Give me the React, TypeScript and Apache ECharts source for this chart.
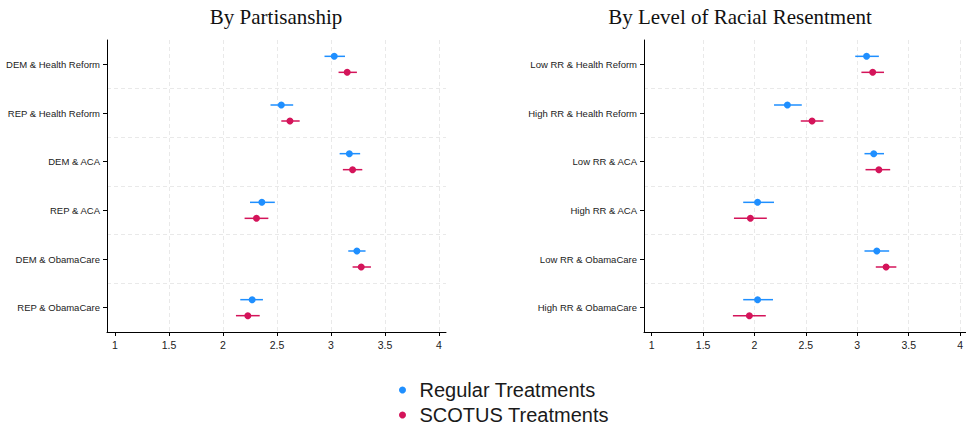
import React, { useEffect, useRef } from "react";
import * as echarts from "echarts";

const leftCats = ["DEM & Health Reform", "REP & Health Reform", "DEM & ACA", "REP & ACA", "DEM & ObamaCare", "REP & ObamaCare"];
const leftRegular = [3.03, 2.54, 3.17, 2.36, 3.24, 2.27];
const leftRegularLow = [2.94, 2.44, 3.08, 2.25, 3.16, 2.16];
const leftRegularHigh = [3.13, 2.65, 3.27, 2.48, 3.32, 2.37];
const leftScotus = [3.15, 2.62, 3.2, 2.31, 3.28, 2.23];
const leftScotusLow = [3.07, 2.54, 3.11, 2.2, 3.2, 2.12];
const leftScotusHigh = [3.24, 2.71, 3.29, 2.42, 3.37, 2.34];

const rightCats = ["Low RR & Health Reform", "High RR & Health Reform", "Low RR & ACA", "High RR & ACA", "Low RR & ObamaCare", "High RR & ObamaCare"];
const rightRegular = [3.09, 2.32, 3.16, 2.03, 3.19, 2.03];
const rightRegularLow = [2.98, 2.19, 3.07, 1.89, 3.07, 1.89];
const rightRegularHigh = [3.21, 2.46, 3.26, 2.19, 3.31, 2.18];
const rightScotus = [3.15, 2.56, 3.21, 1.96, 3.28, 1.95];
const rightScotusLow = [3.04, 2.45, 3.08, 1.8, 3.18, 1.79];
const rightScotusHigh = [3.26, 2.67, 3.32, 2.12, 3.38, 2.11];

const xTicks = [1, 1.5, 2, 2.5, 3, 3.5, 4];
const titles = ["By Partisanship", "By Level of Racial Resentment"];
const seriesNames = ["Regular Treatments", "SCOTUS Treatments"];

const BLUE = "#1f8fff";
const RED = "#d4145a";
const GRID = "#e9e9e9";
const OFFSET = 8;

export default function App() {
  const ref = useRef<HTMLDivElement>(null);
  useEffect(() => {
    if (!ref.current) return;
    const chart = echarts.init(ref.current, null, { renderer: "svg" });

    const makeX = (gridIndex: number, min: number, max: number) => ({
      type: "value",
      gridIndex,
      min,
      max,
      axisLine: { show: true, onZero: false, lineStyle: { color: "#000", width: 1 } },
      axisTick: { show: true, length: 4, customValues: xTicks, lineStyle: { color: "#000" } },
      axisLabel: { customValues: xTicks, fontSize: 10.5, color: "#222", margin: 7, fontFamily: "Liberation Sans, Arial, sans-serif" },
      splitLine: {
        show: true,
        lineStyle: { color: ["rgba(0,0,0,0)", GRID, GRID, GRID, GRID, GRID, GRID], type: [4, 3], width: 1 },
      },
    });
    const makeY = (gridIndex: number, cats: string[]) => ({
      type: "category",
      gridIndex,
      data: cats,
      inverse: true,
      boundaryGap: true,
      axisLine: { show: true, lineStyle: { color: "#000", width: 1 } },
      axisTick: { show: true, alignWithLabel: true, length: 4, lineStyle: { color: "#000" } },
      axisLabel: { fontSize: 9.5, color: "#222", margin: 7, fontFamily: "Liberation Sans, Arial, sans-serif" },
      splitLine: {
        show: true,
        lineStyle: { color: ["rgba(0,0,0,0)", GRID, GRID, GRID, GRID, GRID, "rgba(0,0,0,0)"], type: [4, 3], width: 1 },
      },
    });

    const errSeries = (name: string, idx: number, lows: number[], highs: number[], color: string, off: number) => ({
      type: "custom",
      name,
      xAxisIndex: idx,
      yAxisIndex: idx,
      silent: true,
      z: 2,
      data: lows.map((l, i) => [l, highs[i], i]),
      renderItem: (params: any, api: any) => {
        const p1 = api.coord([api.value(0), api.value(2)]);
        const p2 = api.coord([api.value(1), api.value(2)]);
        return {
          type: "line",
          shape: { x1: p1[0], y1: p1[1] + off, x2: p2[0], y2: p2[1] + off },
          style: { stroke: color, lineWidth: 1.5 },
        };
      },
    });
    const ptSeries = (name: string, idx: number, vals: number[], color: string, off: number) => ({
      type: "scatter",
      name,
      xAxisIndex: idx,
      yAxisIndex: idx,
      z: 3,
      symbol: "circle",
      symbolSize: 7,
      symbolOffset: [0, off],
      itemStyle: { color, opacity: 1 },
      data: vals.map((v, i) => [v, i]),
    });

    const legendItem = (name: string, top: number) => ({
      orient: "vertical",
      left: 394,
      top,
      itemWidth: 24,
      itemHeight: 7,
      icon: "circle",
      data: [name],
      textStyle: { fontSize: 20, color: "#1a1a1a", fontFamily: "Liberation Sans, Arial, sans-serif" },
    });

    chart.setOption({
      animation: false,
      backgroundColor: "#fff",
      grid: [
        { left: 107, top: 40, width: 339, height: 292 },
        { left: 644, top: 40, right: 0, height: 292 },
      ],
      xAxis: [makeX(0, 0.926, 4.065), makeX(1, 0.925, 4.054)],
      yAxis: [makeY(0, leftCats), makeY(1, rightCats)],
      legend: [legendItem(seriesNames[0], 375), legendItem(seriesNames[1], 400)],
      graphic: [
        { type: "text", x: 276, y: 16.5, style: { text: titles[0], font: "21px 'Liberation Serif', 'Times New Roman', serif", fill: "#111", textAlign: "center", verticalAlign: "middle" } },
        { type: "text", x: 740, y: 16.5, style: { text: titles[1], font: "21px 'Liberation Serif', 'Times New Roman', serif", fill: "#111", textAlign: "center", verticalAlign: "middle" } },
      ],
      series: [
        errSeries("Regular CI L", 0, leftRegularLow, leftRegularHigh, BLUE, -OFFSET),
        errSeries("SCOTUS CI L", 0, leftScotusLow, leftScotusHigh, RED, OFFSET),
        errSeries("Regular CI R", 1, rightRegularLow, rightRegularHigh, BLUE, -OFFSET),
        errSeries("SCOTUS CI R", 1, rightScotusLow, rightScotusHigh, RED, OFFSET),
        ptSeries(seriesNames[0], 0, leftRegular, BLUE, -OFFSET),
        ptSeries(seriesNames[1], 0, leftScotus, RED, OFFSET),
        ptSeries(seriesNames[0], 1, rightRegular, BLUE, -OFFSET),
        ptSeries(seriesNames[1], 1, rightScotus, RED, OFFSET),
      ],
    });
    return () => chart.dispose();
  }, []);
  return <div ref={ref} style={{ position: "fixed", left: 0, top: 0, width: 966, height: 432 }} />;
}
